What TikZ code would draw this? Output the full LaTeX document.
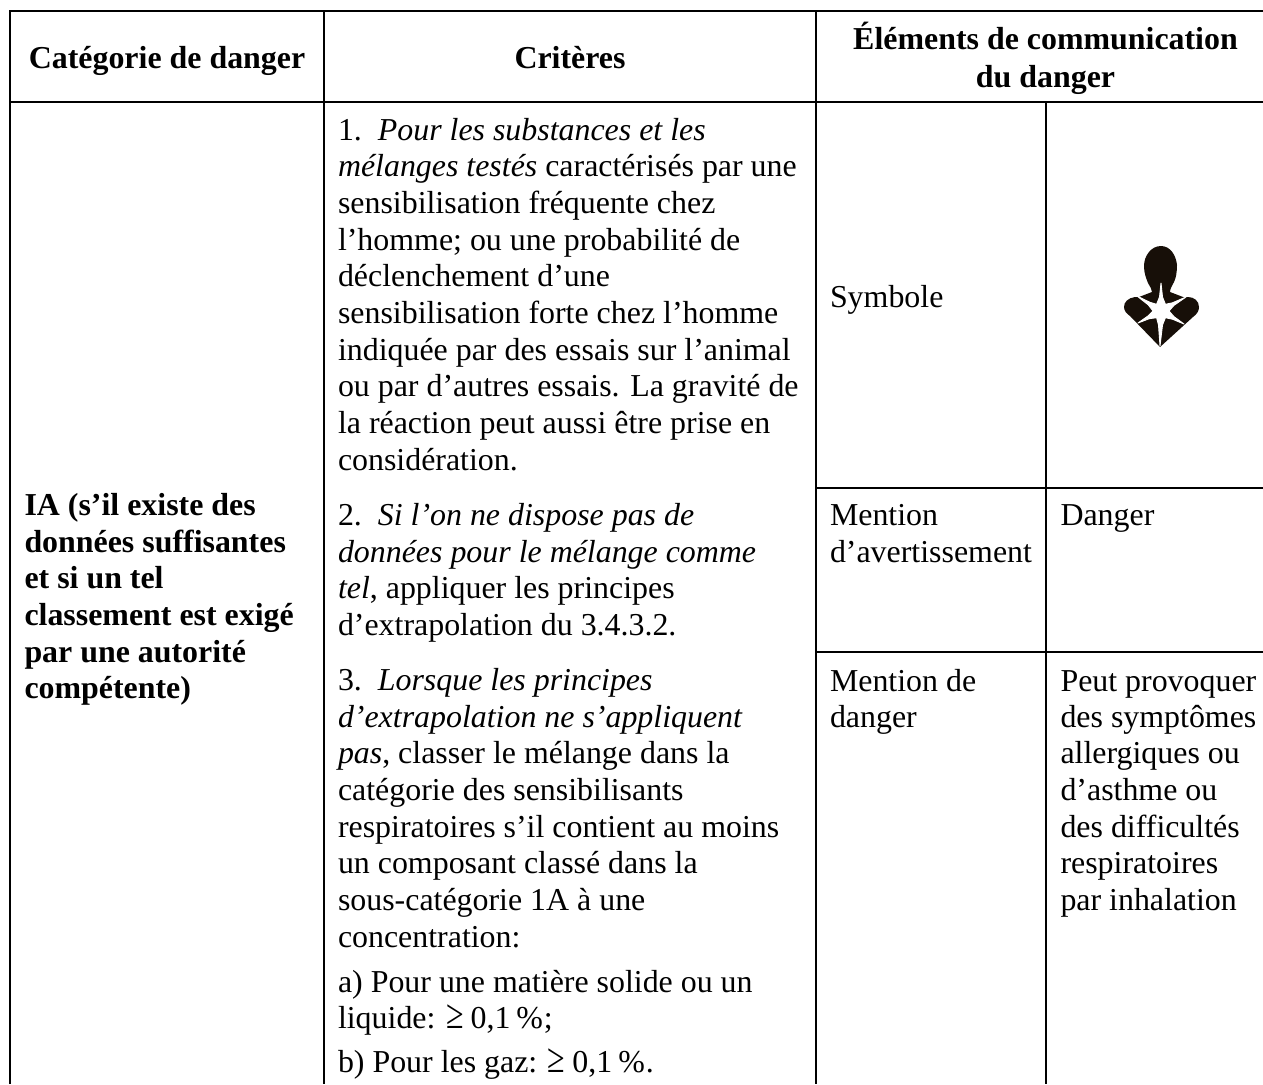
\documentclass[tikz,border=0pt]{standalone}
\usepackage{fontspec}
\setmainfont{Liberation Serif}
\newcommand{\bigge}{\scalebox{1}[1.3]{≥}\hspace{-1pt}}
\tikzset{
  x=1pt,y=-1pt,
  rule/.style={line width=2.2pt,black},
  txt/.style={anchor=base west,inner sep=0pt,outer sep=0pt,font=\fontsize{31.9pt}{36.7pt}\selectfont,text=black},
  hd/.style={anchor=base,inner sep=0pt,outer sep=0pt,font=\fontsize{31.9pt}{36.7pt}\selectfont\bfseries,text=black},
  bld/.style={txt,font=\fontsize{31.9pt}{36.7pt}\selectfont\bfseries},
  picto/.style={fill=black!88!brown,draw=none},
  crack/.style={fill=white,draw=white,line width=0.9pt,line join=round},
}
\begin{document}
\begin{tikzpicture}
\useasboundingbox (0,0) rectangle (1263,1084);
\fill[white] (0,0) rectangle (1263,1084);
% grid
\coordinate (tl) at (10,11); \coordinate (tr) at (1263,11);
\coordinate (hl) at (10,102); \coordinate (hr) at (1263,102);
\draw[rule] (10,1084)--(tl)--(tr);
\draw[rule] (hl)--(hr);
\draw[rule] (323.7,11)--(323.7,1084);
\draw[rule] (815.7,11)--(815.7,1084);
\draw[rule] (1046,102)--(1046,1084);
\draw[rule] (815.7,487.7)--(1263,487.7);
\draw[rule] (815.7,651.7)--(1263,651.7);
% header
\node[hd] (h1) at (167,68) {Catégorie de danger};
\node[hd] (h2) at (570,68) {Critères};
\node[hd] (h3a) at (1045.5,49) {Éléments de communication};
\node[hd] (h3b) at (1045.5,87) {du danger};
% col 1
\node[bld] (a1) at (24.5,515) {IA (s’il existe des};
\node[bld] (a2) at (24.5,552) {données suffisantes};
\node[bld] (a3) at (24.5,588) {et si un tel};
\node[bld] (a4) at (24.5,625) {classement est exigé};
\node[bld] (a5) at (24.5,662) {par une autorité};
\node[bld] (a6) at (24.5,698) {compétente)};
% col 2
\node[txt] (c1) at (338,140) {1.\hspace{0.5em}\itshape Pour les substances et les};
\node[txt] (c2) at (338,176.7) {\itshape mélanges testés \upshape caractérisés par une};
\node[txt] (c3) at (338,213.3) {sensibilisation fréquente chez};
\node[txt] (c4) at (338,250) {l’homme; ou une probabilité de};
\node[txt] (c5) at (338,286.7) {déclenchement d’une};
\node[txt] (c6) at (338,323.3) {sensibilisation forte chez l’homme};
\node[txt] (c7) at (338,360) {indiquée par des essais sur l’animal};
\node[txt] (c8) at (338,396.7) {ou par d’autres essais. La gravité de};
\node[txt] (c9) at (338,433.3) {la réaction peut aussi être prise en};
\node[txt] (c10) at (338,470) {considération.};
\node[txt] (d1) at (338,525) {2.\hspace{0.5em}\itshape Si l’on ne dispose pas de};
\node[txt] (d2) at (338,562) {\itshape données pour le mélange comme};
\node[txt] (d3) at (338,598) {\itshape tel\upshape , appliquer les principes};
\node[txt] (d4) at (338,635) {d’extrapolation du 3.4.3.2.};
\node[txt] (e1) at (338,690) {3.\hspace{0.5em}\itshape Lorsque les principes};
\node[txt] (e2) at (338,727) {\itshape d’extrapolation ne s’appliquent};
\node[txt] (e3) at (338,763) {\itshape pas\upshape , classer le mélange dans la};
\node[txt] (e4) at (338,800) {catégorie des sensibilisants};
\node[txt] (e5) at (338,837) {respiratoires s’il contient au moins};
\node[txt] (e6) at (338,873) {un composant classé dans la};
\node[txt] (e7) at (338,910) {sous-catégorie 1A à une};
\node[txt] (e8) at (338,947) {concentration:};
\node[txt] (f1) at (338,992) {a) Pour une matière solide ou un};
\node[txt] (f2) at (338,1028) {liquide: \bigge{} 0,1\hspace{-2pt} \%\hspace{1pt};};
\node[txt] (g1) at (338,1072) {b) Pour les gaz: \bigge{} 0,1\hspace{-2pt} \%\hspace{1pt}.};
% col 3
\node[txt] (s1) at (830,307) {Symbole};
\node[txt] (m1) at (830,525) {Mention};
\node[txt] (m2) at (830,562) {d’avertissement};
\node[txt] (dg) at (1060.5,525) {Danger};
\node[txt] (n1) at (830,691) {Mention de};
\node[txt] (n2) at (830,727) {danger};
\node[txt] (p1) at (1060.5,691) {Peut provoquer};
\node[txt] (p2) at (1060.5,727) {des symptômes};
\node[txt] (p3) at (1060.5,763) {allergiques ou};
\node[txt] (p4) at (1060.5,800) {d’asthme ou};
\node[txt] (p5) at (1060.5,837) {des difficultés};
\node[txt] (p6) at (1060.5,873) {respiratoires};
\node[txt] (p7) at (1060.5,910) {par inhalation};
% pictogram
\path[picto] (1161,246)
  .. controls (1151,246) and (1144,256) .. (1144,266)
  .. controls (1144,273) and (1146,278) .. (1148,283)
  .. controls (1150,287) and (1152,289) .. (1152,292)
  -- (1139,297) -- (1135,297)
  .. controls (1128,298) and (1124,302) .. (1124,307)
  .. controls (1124,311) and (1127,314) .. (1130,316)
  -- (1160,347)
  -- (1193,317)
  .. controls (1197,314) and (1199,311) .. (1199,307)
  .. controls (1199,301) and (1194,297) .. (1188,297)
  -- (1183,297)
  -- (1170,292)
  .. controls (1170,289) and (1172,286) .. (1174,282)
  .. controls (1176,278) and (1177,272) .. (1177,265)
  .. controls (1176,255) and (1170,246) .. (1161,246) -- cycle;
\path[crack] (1159.5,297)--(1161,283)--(1162.5,297)--(1165.4,304.3)--(1172.5,302.8)--(1186,297)--(1173.9,305.4)--(1169,311)--(1173.9,316.6)--(1184,324)--(1172.5,319.2)--(1165.4,317.7)--(1162.5,325)--(1160,346)--(1158.5,325)--(1156.6,317.7)--(1149.2,318.7)--(1138,323)--(1147.8,316.1)--(1153,311)--(1148.3,304.9)--(1137,296)--(1149.9,302.3)--(1156.6,304.3)--cycle;
\end{tikzpicture}
\end{document}
